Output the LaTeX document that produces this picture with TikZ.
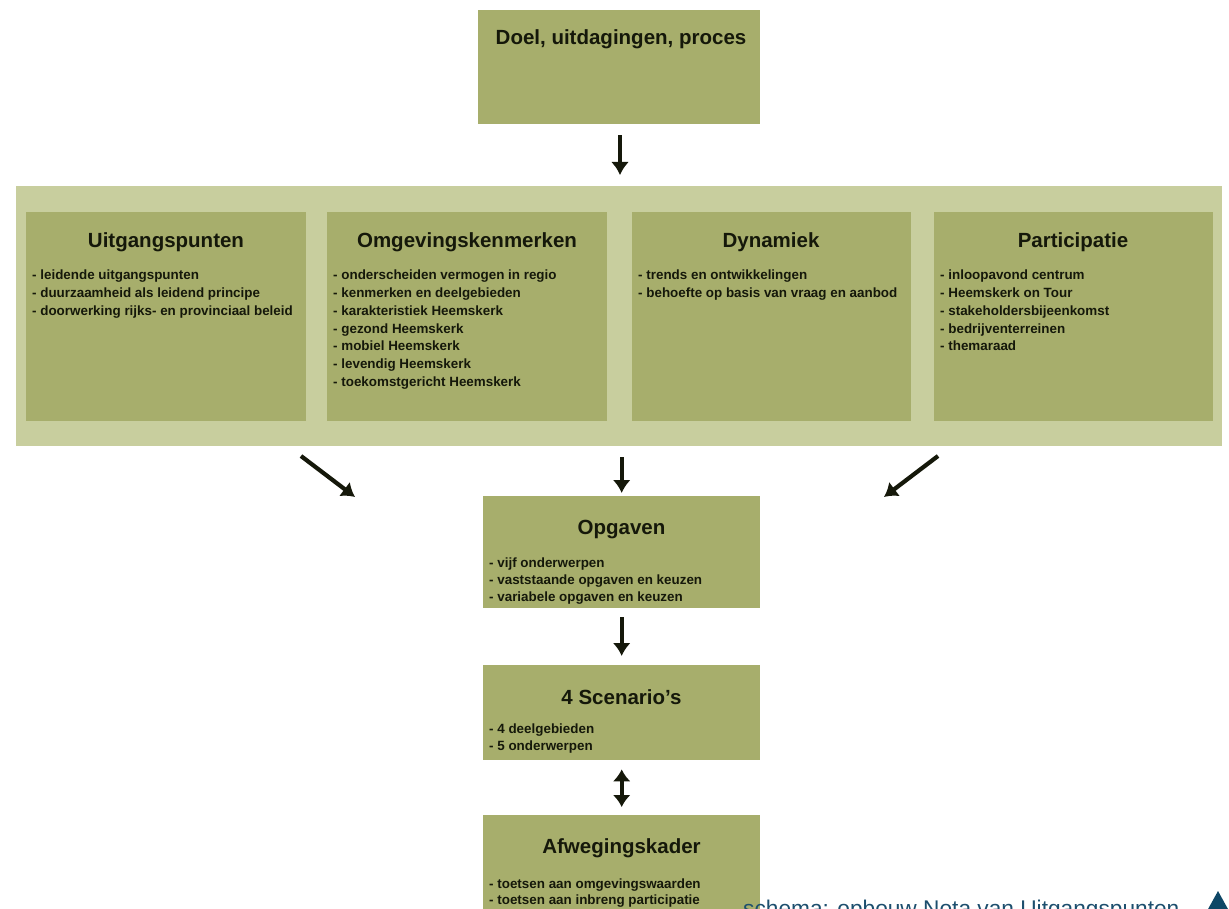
\documentclass[tikz,border=0pt]{standalone}
\usepackage{fontspec}
\setmainfont{Liberation Sans}
\usetikzlibrary{arrows.meta}
\definecolor{boxgreen}{HTML}{A7AE6C}
\definecolor{bandgreen}{HTML}{C8CE9E}
\definecolor{inkdark}{HTML}{15180A}
\definecolor{captionblue}{HTML}{1D4F6E}
\definecolor{triblue}{HTML}{0E4766}
\begin{document}
\begin{tikzpicture}[x=1pt,y=-1pt,
  greenbox/.style={fill=boxgreen,draw=none,inner sep=0,anchor=north west},
  bandbox/.style={fill=bandgreen,draw=none,inner sep=0,anchor=north west},
  titletext/.style={inner sep=0,anchor=base,text=inkdark,font=\fontsize{20.5}{24}\selectfont\bfseries},
  bullettext/.style={inner sep=0,anchor=base west,text=inkdark,font=\fontsize{13.4}{16}\selectfont\bfseries},
  arr/.style={line width=4.2pt,-{Latex[length=13pt,width=18pt]},inkdark},
  dblarr/.style={line width=4.2pt,{Latex[length=12pt,width=18pt]}-{Latex[length=12pt,width=18pt]},inkdark}
]
\useasboundingbox (0,0) rectangle (1229,909);
\fill[white] (0,0) rectangle (1229,909);

% top box
\node[greenbox,minimum width=282pt,minimum height=114pt] (top) at (478,10) {};
\node[titletext] (toptitle) at (621,45) {Doel, uitdagingen, proces};

% band
\node[bandbox,minimum width=1206pt,minimum height=260pt] (band) at (16,186) {};

% four inner boxes
\node[greenbox,minimum width=280pt,minimum height=209pt] (uit) at (26,212) {};
\node[greenbox,minimum width=280pt,minimum height=209pt] (omg) at (327,212) {};
\node[greenbox,minimum width=279pt,minimum height=209pt] (dyn) at (632,212) {};
\node[greenbox,minimum width=279pt,minimum height=209pt] (par) at (934,212) {};

\node[titletext] (uitT) at (166,248) {Uitgangspunten};
\node[titletext] (omgT) at (467,248) {Omgevingskenmerken};
\node[titletext] (dynT) at (771,248) {Dynamiek};
\node[titletext] (parT) at (1073,248) {Participatie};

\foreach \t [count=\i] in {- leidende uitgangspunten,- duurzaamheid als leidend principe,- doorwerking rijks- en provinciaal beleid}
  \node[bullettext] (uitb\i) at (32,{280+17.7*(\i-1)}) {\t};
\foreach \t [count=\i] in {- onderscheiden vermogen in regio,- kenmerken en deelgebieden,- karakteristiek Heemskerk,- gezond Heemskerk,- mobiel Heemskerk,- levendig Heemskerk,- toekomstgericht Heemskerk}
  \node[bullettext] (omgb\i) at (333,{280+17.7*(\i-1)}) {\t};
\foreach \t [count=\i] in {- trends en ontwikkelingen,- behoefte op basis van vraag en aanbod}
  \node[bullettext] (dynb\i) at (638,{280+17.7*(\i-1)}) {\t};
\foreach \t [count=\i] in {- inloopavond centrum,- Heemskerk on Tour,- stakeholdersbijeenkomst,- bedrijventerreinen,- themaraad}
  \node[bullettext] (parb\i) at (940,{280+17.7*(\i-1)}) {\t};

% Opgaven
\node[greenbox,minimum width=277pt,minimum height=112pt] (opg) at (483,496) {};
\node[titletext] (opgT) at (621.5,534) {Opgaven};
\foreach \t [count=\i] in {- vijf onderwerpen,- vaststaande opgaven en keuzen,- variabele opgaven en keuzen}
  \node[bullettext] (opgb\i) at (489,{567+17*(\i-1)}) {\t};

% Scenario's
\node[greenbox,minimum width=277pt,minimum height=95pt] (scen) at (483,665) {};
\node[titletext] (scenT) at (621.5,704) {4 Scenario's};
\foreach \t [count=\i] in {- 4 deelgebieden,- 5 onderwerpen}
  \node[bullettext] (scenb\i) at (489,{733+17.5*(\i-1)}) {\t};

% Afwegingskader
\node[greenbox,minimum width=277pt,minimum height=110pt] (afw) at (483,815) {};
\node[titletext] (afwT) at (621.5,853) {Afwegingskader};
\foreach \t [count=\i] in {- toetsen aan omgevingswaarden,- toetsen aan inbreng participatie}
  \node[bullettext] (afwb\i) at (489,{888+16.5*(\i-1)}) {\t};

% arrows
\draw[arr,shorten <=11pt,shorten >=11pt] (top.south -| 620,0) -- (620,186);
\draw[arr,shorten <=11pt,shorten >=3pt] (band.south -| opg.north) -- (opg.north);
\coordinate (dlA) at (301,456);
\coordinate (dlB) at (355,497);
\coordinate (drA) at (938,456);
\coordinate (drB) at (884,497);
\draw[arr] (dlA) -- (dlB);
\draw[arr] (drA) -- (drB);
\draw[arr,shorten <=9pt,shorten >=9pt] (opg.south) -- (scen.north);
\draw[dblarr,shorten <=9pt,shorten >=8pt] (scen.south) -- (afw.north);

% caption
\node[inner sep=0,anchor=base west,text=captionblue,font=\fontsize{22.7}{26}\selectfont] (cap) at (743,916) {schema: opbouw Nota van Uitgangspunten};
\fill[triblue] (1218,891) -- (1234,920) -- (1202,920) -- cycle;
\end{tikzpicture}
\end{document}
